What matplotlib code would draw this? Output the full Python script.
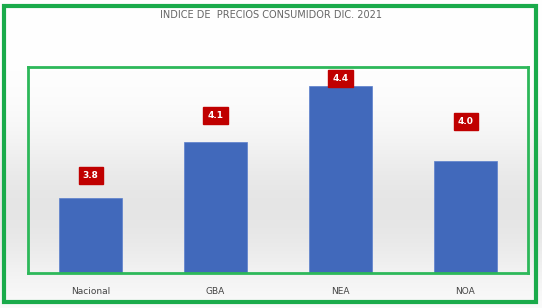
import numpy as np
import matplotlib
matplotlib.use('Agg')
import matplotlib.pyplot as plt
from matplotlib.patches import Rectangle

categories = ['Nacional', 'GBA', 'NEA', 'NOA']
values = [3.8, 4.1, 4.4, 4.0]
value_labels = ['3.8', '4.1', '4.4', '4.0']
# how far above each bar its label sits, in points
label_offsets = [13, 16, 2, 25]

W, H = 542, 308
fig = plt.figure(figsize=(W / 100, H / 100), dpi=100)

# background gradient for the whole figure (white -> light gray -> white)
bg = fig.add_axes([0, 0, 1, 1], zorder=0)
rows = np.linspace(0, 1, 200)
shade = 1 - 0.10 * np.exp(-((rows - 0.68) / 0.25) ** 2)
grad = np.tile(shade[:, None], (1, 2))
bg.imshow(np.dstack([grad, grad, grad]), aspect='auto', extent=[0, 1, 0, 1], origin='upper')
bg.set_xlim(0, 1)
bg.set_ylim(0, 1)
bg.axis('off')

# outer green frame
fig.patches.append(Rectangle((4 / W, 1 - 302 / H), 532 / W, 296 / H, transform=fig.transFigure,
                             fill=False, edgecolor='#1aab4b', linewidth=3, zorder=5))

ax = fig.add_axes([28 / W, 1 - 273 / H, 500 / W, 206 / H], zorder=1)
ax.patch.set_alpha(0)
x = np.arange(len(categories))
ax.bar(x, values, width=0.5, color='#4169bb', edgecolor='#5b7fcc', linewidth=0.5,
       bottom=0, zorder=2)
ax.set_xlim(-0.5, 3.5)
ax.set_ylim(3.4, 4.5)
ax.set_yticks([])
ax.set_xticks(x)
ax.set_xticklabels(categories, fontsize=6.5, color='#444444')
ax.tick_params(axis='x', length=0, pad=10)
for s in ax.spines.values():
    s.set_color('#2db85a')
    s.set_linewidth(2)

for xi, v, lab, off in zip(x, values, value_labels, label_offsets):
    ax.annotate(lab, (xi, v), xytext=(0, off), textcoords='offset points',
                ha='center', va='bottom', fontsize=6.5, fontweight='bold', color='white',
                bbox=dict(boxstyle='square,pad=0.45', fc='#c00000', ec='#c00000'), zorder=3)

fig.text(0.5, 1 - 15 / H, 'INDICE DE  PRECIOS CONSUMIDOR DIC. 2021', ha='center', va='center',
         fontsize=7, color='#666666')

fig.savefig('out.png', dpi=100)
